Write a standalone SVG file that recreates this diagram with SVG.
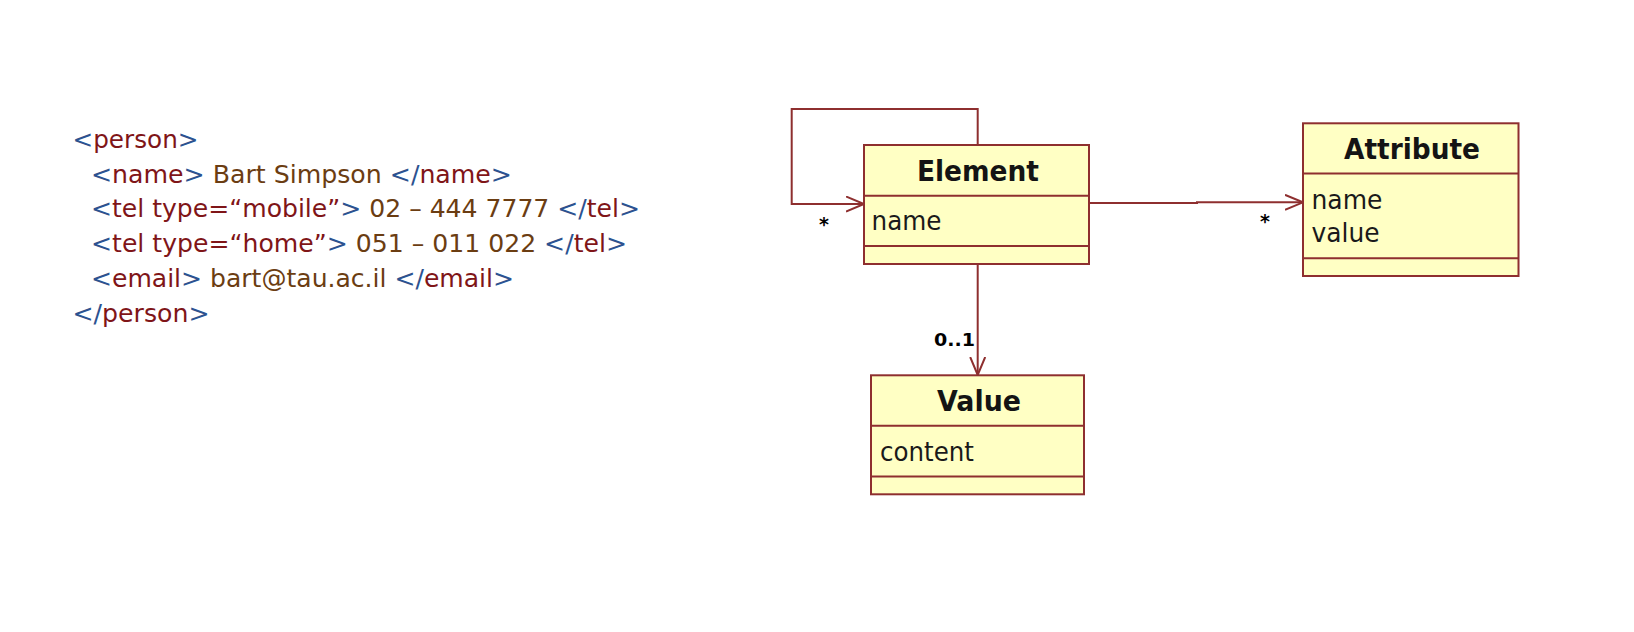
<svg xmlns="http://www.w3.org/2000/svg" width="1634" height="632" viewBox="0 0 1634 632">
<style>
.xml{font-family:"DejaVu Sans","Liberation Sans",sans-serif;font-size:24.8px}
.b{fill:#2C5290}.r{fill:#7F1518}.c{fill:#6B3D12}
.box{fill:#FFFFC4;stroke:#8E2F2F;stroke-width:2}
.div{stroke:#8E2F2F;stroke-width:2;fill:none}
.title{font-family:"DejaVu Sans","Liberation Sans",sans-serif;font-size:28px;font-weight:bold;fill:#141414;text-anchor:middle}
.attr{font-family:"DejaVu Sans","Liberation Sans",sans-serif;font-size:27px;fill:#1a1a1a}
.mult{font-family:"DejaVu Sans","Liberation Sans",sans-serif;font-weight:bold;fill:#000}
.conn{fill:none;stroke:#8E2F2F;stroke-width:2}
</style>
<defs>
<marker id="open" viewBox="0 0 20 17" refX="18" refY="8.5" markerWidth="20" markerHeight="17" markerUnits="userSpaceOnUse" orient="auto">
<path d="M0,1 L18,8.5 L0,16" fill="none" stroke="#8E2F2F" stroke-width="2"/>
</marker>
</defs>
<rect width="1634" height="632" fill="#fff"/>
<g id="xml-text" class="xml">
<text x="72.5" y="148.3" textLength="126" lengthAdjust="spacingAndGlyphs"><tspan class="b">&lt;</tspan><tspan class="r">person</tspan><tspan class="b">&gt;</tspan></text>
<text x="91" y="183.2" textLength="421" lengthAdjust="spacingAndGlyphs"><tspan class="b">&lt;</tspan><tspan class="r">name</tspan><tspan class="b">&gt;</tspan><tspan class="c"> Bart Simpson </tspan><tspan class="b">&lt;/</tspan><tspan class="r">name</tspan><tspan class="b">&gt;</tspan></text>
<text x="91" y="217.2" textLength="549" lengthAdjust="spacingAndGlyphs"><tspan class="b">&lt;</tspan><tspan class="r">tel type=“mobile”</tspan><tspan class="b">&gt;</tspan><tspan class="c"> 02 – 444 7777 </tspan><tspan class="b">&lt;/</tspan><tspan class="r">tel</tspan><tspan class="b">&gt;</tspan></text>
<text x="91" y="252" textLength="536" lengthAdjust="spacingAndGlyphs"><tspan class="b">&lt;</tspan><tspan class="r">tel type=“home”</tspan><tspan class="b">&gt;</tspan><tspan class="c"> 051 – 011 022 </tspan><tspan class="b">&lt;/</tspan><tspan class="r">tel</tspan><tspan class="b">&gt;</tspan></text>
<text x="91" y="286.8" textLength="423" lengthAdjust="spacingAndGlyphs"><tspan class="b">&lt;</tspan><tspan class="r">email</tspan><tspan class="b">&gt;</tspan><tspan class="c"> bart@tau.ac.il </tspan><tspan class="b">&lt;/</tspan><tspan class="r">email</tspan><tspan class="b">&gt;</tspan></text>
<text x="72.5" y="321.7" textLength="137" lengthAdjust="spacingAndGlyphs"><tspan class="b">&lt;/</tspan><tspan class="r">person</tspan><tspan class="b">&gt;</tspan></text>
</g>
<g id="connectors">
<path class="conn" d="M977.7,145 V109 H791.7 V204 H864" marker-end="url(#open)"/>
<path class="conn" d="M1089,203 H1197 V202.3 H1303" marker-end="url(#open)"/>
<path class="conn" d="M977.7,264 V375" marker-end="url(#open)"/>
<text class="mult" x="824" y="230.5" font-size="19" text-anchor="middle">*</text>
<text class="mult" x="1265" y="227.5" font-size="19" text-anchor="middle">*</text>
<text class="mult" x="934" y="346" font-size="18.5" textLength="41" lengthAdjust="spacingAndGlyphs">0..1</text>
</g>
<g id="Element">
<rect class="box" x="864" y="145" width="225" height="119"/>
<path class="div" d="M864,195.7 H1089 M864,246 H1089"/>
<text class="title" x="978" y="180.5" textLength="122" lengthAdjust="spacingAndGlyphs">Element</text>
<text class="attr" x="871.5" y="229.5" textLength="70" lengthAdjust="spacingAndGlyphs">name</text>
</g>
<g id="Attribute">
<rect class="box" x="1303" y="123.3" width="215.5" height="152.7"/>
<path class="div" d="M1303,173.5 H1518.5 M1303,258.3 H1518.5"/>
<text class="title" x="1412" y="158.5" textLength="136" lengthAdjust="spacingAndGlyphs">Attribute</text>
<text class="attr" x="1311.5" y="209" textLength="71" lengthAdjust="spacingAndGlyphs">name</text>
<text class="attr" x="1311.5" y="241.7" textLength="68" lengthAdjust="spacingAndGlyphs">value</text>
</g>
<g id="Value">
<rect class="box" x="871" y="375.3" width="213" height="119"/>
<path class="div" d="M871,425.7 H1084 M871,476.4 H1084"/>
<text class="title" x="979" y="410.5" textLength="84" lengthAdjust="spacingAndGlyphs">Value</text>
<text class="attr" x="880" y="460.7" textLength="94" lengthAdjust="spacingAndGlyphs">content</text>
</g>
</svg>
